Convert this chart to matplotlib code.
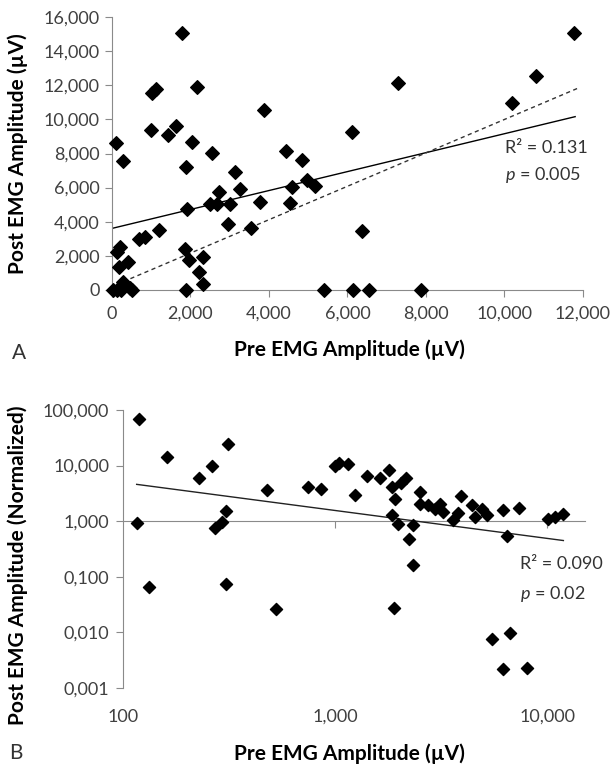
import numpy as np
import matplotlib
matplotlib.use("Agg")
import matplotlib.pyplot as plt
from matplotlib.ticker import FuncFormatter, FixedLocator, NullLocator

plt.rcParams['font.family'] = ['Lato', 'DejaVu Sans']
plt.rcParams['mathtext.fontset'] = 'custom'
plt.rcParams['mathtext.rm'] = 'Lato'
plt.rcParams['mathtext.it'] = 'Lato:italic'

# ---- Panel A data (linear axes, µV) ----
pre_a = [1790, 1120, 1010, 2160, 3880, 990, 1420, 1630, 93, 2050,
         290, 2540, 1890, 3130, 4430, 4830, 4580, 4960, 5170, 4530,
         3770, 3260, 2730, 2500, 2670, 3010, 1900, 2960, 3540, 1210,
         700, 840, 200, 120, 1860, 1970, 2330, 420, 190, 2220,
         2330, 30, 290, 460, 500, 120, 230, 1890, 5400, 6150,
         6560, 7860, 11780, 10800, 7290, 10180, 6110, 6360]
post_a = [15050, 11760, 11530, 11920, 10550, 9380, 9090, 9630, 8600, 8700,
          7580, 8010, 7190, 6940, 8150, 7620, 6060, 6450, 6100, 5120,
          5180, 5900, 5770, 5040, 5040, 5040, 4730, 3870, 3650, 3520,
          2970, 3130, 2540, 2210, 2380, 1760, 1950, 1660, 1370, 1070,
          350, 0, 490, 100, 0, 0, 0, 0, 0, 0,
          0, 0, 15080, 12560, 12110, 10980, 9240, 3460]
fit_a = (0.555, 3610)       # slope, intercept (solid regression line)
fit_a_range = (0, 11800)
ref_a = (0.979, 206)        # dashed line
ref_a_range = (290, 11920)
stats_a = ["R² = 0.131", r"$\mathit{p}$ = 0.005"]

# ---- Panel B data (log axes) ----
pre_b = [119, 116, 133, 162, 228, 262, 314, 306, 292, 272,
         306, 527, 476, 748, 856, 1000, 1048, 1155, 1242, 1420,
         1630, 1803, 1851, 1919, 2042, 2162, 1851, 1989, 2340, 2234,
         2340, 1905, 2518, 2518, 2754, 2963, 3128, 3243, 3615, 3818,
         3930, 4418, 4575, 4920, 5197, 6180, 7400, 6455, 10140, 10900,
         11940, 5485, 6686, 6180, 8020]
post_b = [68.8, 0.93, 0.065, 14, 6.1, 9.8, 24.3, 1.52, 0.95, 0.75,
          0.074, 0.026, 3.6, 4.1, 3.8, 9.8, 11.2, 10.6, 2.9, 6.45,
          5.9, 8.5, 4.1, 2.55, 4.8, 5.9, 1.27, 0.9, 0.84, 0.48,
          0.16, 0.028, 3.35, 2.07, 1.94, 1.66, 2.07, 1.45, 1.03, 1.4,
          2.8, 1.94, 1.2, 1.66, 1.27, 1.57, 1.73, 0.55, 1.1, 1.2,
          1.35, 0.0076, 0.0096, 0.0022, 0.0023]
fit_b = (50.0, -0.502)      # y = C * x^b
fit_b_range = (116, 11940)
stats_b = ["R² = 0.090", r"$\mathit{p}$ = 0.02"]

axis_grey = '#8a8a8a'
tick_text = '#404040'
label_size = 15
tick_size = 13

fig = plt.figure(figsize=(6.1, 7.66), dpi=100)

# ---------------- Panel A ----------------
ax1 = fig.add_axes([112/610, 1-290/766, 471/610, 273/766])
ax1.scatter(pre_a, post_a, marker='D', s=48, color='black', zorder=3, clip_on=False)
xs = np.array(fit_a_range)
ax1.plot(xs, fit_a[0]*xs + fit_a[1], color='black', lw=1.0, zorder=2)
xr = np.array(ref_a_range)
ax1.plot(xr, ref_a[0]*xr + ref_a[1], color='#333333', lw=1.0, ls=(0, (3, 2.5)), zorder=2)
ax1.set_xlim(0, 12000)
ax1.set_ylim(0, 16000)
ax1.set_xticks(range(0, 12001, 2000))
ax1.set_yticks(range(0, 16001, 2000))
fmt = FuncFormatter(lambda v, p: f"{v:,.0f}")
ax1.xaxis.set_major_formatter(fmt)
ax1.yaxis.set_major_formatter(fmt)
for s in ['top', 'right']:
    ax1.spines[s].set_visible(False)
for s in ['left', 'bottom']:
    ax1.spines[s].set_color(axis_grey)
ax1.tick_params(colors=axis_grey, labelcolor=tick_text, labelsize=tick_size, length=5)
ax1.tick_params(axis='x', pad=6.5)
ax1.tick_params(axis='y', pad=4)
ax1.set_xlabel("Pre EMG Amplitude (µV)", fontsize=label_size, fontweight='bold')
ax1.set_ylabel("Post EMG Amplitude (µV)", fontsize=label_size, fontweight='bold')
ax1.xaxis.set_label_coords(0.505, -0.18)
ax1.yaxis.set_label_coords(-0.178, 0.5)
ax1.text(10010, 8320, stats_a[0], fontsize=13, color='#333333', va='center')
ax1.text(10010, 6740, stats_a[1], fontsize=13, color='#333333', va='center')
fig.text(19/610, 1-353/766, "A", fontsize=15, color='#333333', ha='center', va='center')

# ---------------- Panel B ----------------
ax2 = fig.add_axes([123/610, 1-688/766, 462/610, 278/766])
ax2.set_xscale('log')
ax2.set_yscale('log')
ax2.scatter(pre_b, post_b, marker='D', s=38, color='black', zorder=3, clip_on=False)
xb = np.geomspace(*fit_b_range, 50)
ax2.plot(xb, fit_b[0]*xb**fit_b[1], color='#222222', lw=1.0, zorder=2)
ax2.set_xlim(100, 15100)
ax2.set_ylim(0.001, 100)
ax2.xaxis.set_major_locator(FixedLocator([100, 1000, 10000]))
ax2.xaxis.set_minor_locator(NullLocator())
ax2.yaxis.set_major_locator(FixedLocator([0.001, 0.01, 0.1, 1, 10, 100]))
ax2.yaxis.set_minor_locator(NullLocator())
ax2.xaxis.set_major_formatter(FuncFormatter(lambda v, p: f"{v:,.0f}"))
ax2.yaxis.set_major_formatter(FuncFormatter(lambda v, p: f"{v:.3f}".replace('.', ',')))
for s in ['top', 'right', 'bottom']:
    ax2.spines[s].set_visible(False)
ax2.spines['left'].set_color(axis_grey)
ax2.tick_params(axis='y', colors=axis_grey, labelcolor=tick_text, labelsize=tick_size, length=5, pad=5)
ax2.tick_params(axis='x', length=0, labelcolor=tick_text, labelsize=tick_size, pad=15)
# horizontal axis crosses at 1,000
sec = ax2.secondary_xaxis(0.6)
sec.spines['bottom'].set_color(axis_grey)
sec.spines['top'].set_color(axis_grey)
sec.xaxis.set_major_locator(FixedLocator([1000, 10000]))
sec.xaxis.set_minor_locator(NullLocator())
sec.tick_params(axis='x', direction='in', length=5, colors=axis_grey, labelbottom=False, labeltop=False)
ax2.set_xlabel("Pre EMG Amplitude (µV)", fontsize=label_size, fontweight='bold')
ax2.set_ylabel("Post EMG Amplitude (Normalized)", fontsize=label_size, fontweight='bold')
ax2.xaxis.set_label_coords(0.491, -0.2)
ax2.yaxis.set_label_coords(-0.206, 0.442)
ax2.text(7460, 0.173, stats_b[0], fontsize=13, color='#333333', va='center')
ax2.text(7460, 0.0498, stats_b[1], fontsize=13, color='#333333', va='center')
fig.text(16/610, 1-753/766, "B", fontsize=15, color='#333333', ha='center', va='center')

fig.savefig("out.png", dpi=100)
